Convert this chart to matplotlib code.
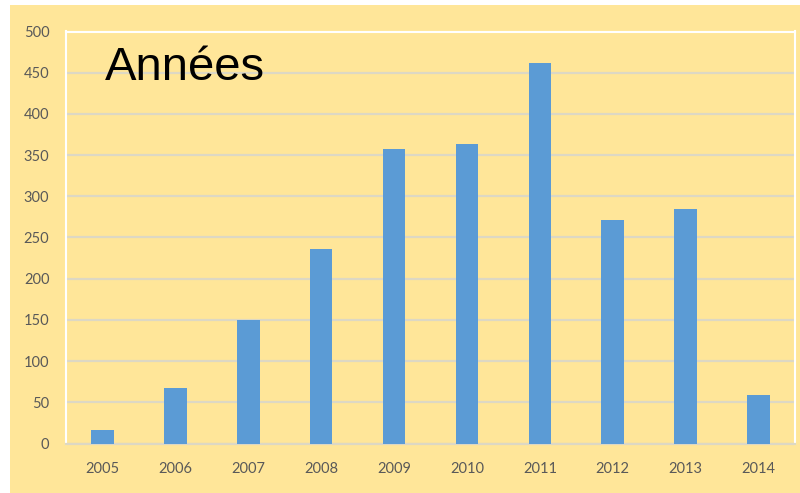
#!/usr/bin/env python3
"""Bar chart of yearly counts, 2005-2014 ("Années")."""

import matplotlib
matplotlib.use("Agg")
import matplotlib.pyplot as plt
from matplotlib.patches import Rectangle

years = ["2005", "2006", "2007", "2008", "2009", "2010", "2011", "2012", "2013", "2014"]
counts = [16, 67, 150, 236, 357, 363, 462, 271, 285, 59]
y_ticks = [0, 50, 100, 150, 200, 250, 300, 350, 400, 450, 500]

PANEL = "#FFE699"
BAR = "#5B9BD5"
GRID = "#DDD8C4"
TICK_TEXT = "#595959"

fig = plt.figure(figsize=(8, 4.93), dpi=100)
fig.patch.set_facecolor("white")

# yellow chart panel, kept behind the axes
fig.patches.append(Rectangle((10 / 800, 0), 1 - 10 / 800, 1 - 5 / 493,
                             transform=fig.transFigure, facecolor=PANEL,
                             edgecolor="none", zorder=-10))

ax = fig.add_axes([66 / 800, 1 - 443.5 / 493, (795 - 66) / 800, (443.5 - 31.5) / 493])
ax.set_facecolor(PANEL)

ax.bar(range(len(years)), counts, width=0.31, color=BAR, zorder=3)

ax.set_xlim(-0.5, len(years) - 0.5)
ax.set_ylim(0, 500)
ax.set_yticks(y_ticks)
ax.set_xticks(range(len(years)))
ax.set_xticklabels(years)

ax.grid(axis="y", color=GRID, linewidth=1.6, zorder=0)
ax.set_axisbelow(True)

for side in ("left", "top", "right"):
    ax.spines[side].set_color("white")
    ax.spines[side].set_linewidth(1.5)
ax.spines["bottom"].set_color(GRID)
ax.spines["bottom"].set_linewidth(1.6)

ax.tick_params(axis="both", length=0, labelsize=10.5, labelcolor=TICK_TEXT)
ax.tick_params(axis="y", pad=12)
ax.tick_params(axis="x", pad=13)
for lbl in ax.get_xticklabels() + ax.get_yticklabels():
    lbl.set_family("Lato")

fig.text(105 / 800, 1 - 80 / 493, "Années", fontsize=34, family="Liberation Sans",
         color="black", va="baseline", ha="left")

plt.savefig("out.png", dpi=100, facecolor=fig.get_facecolor())
